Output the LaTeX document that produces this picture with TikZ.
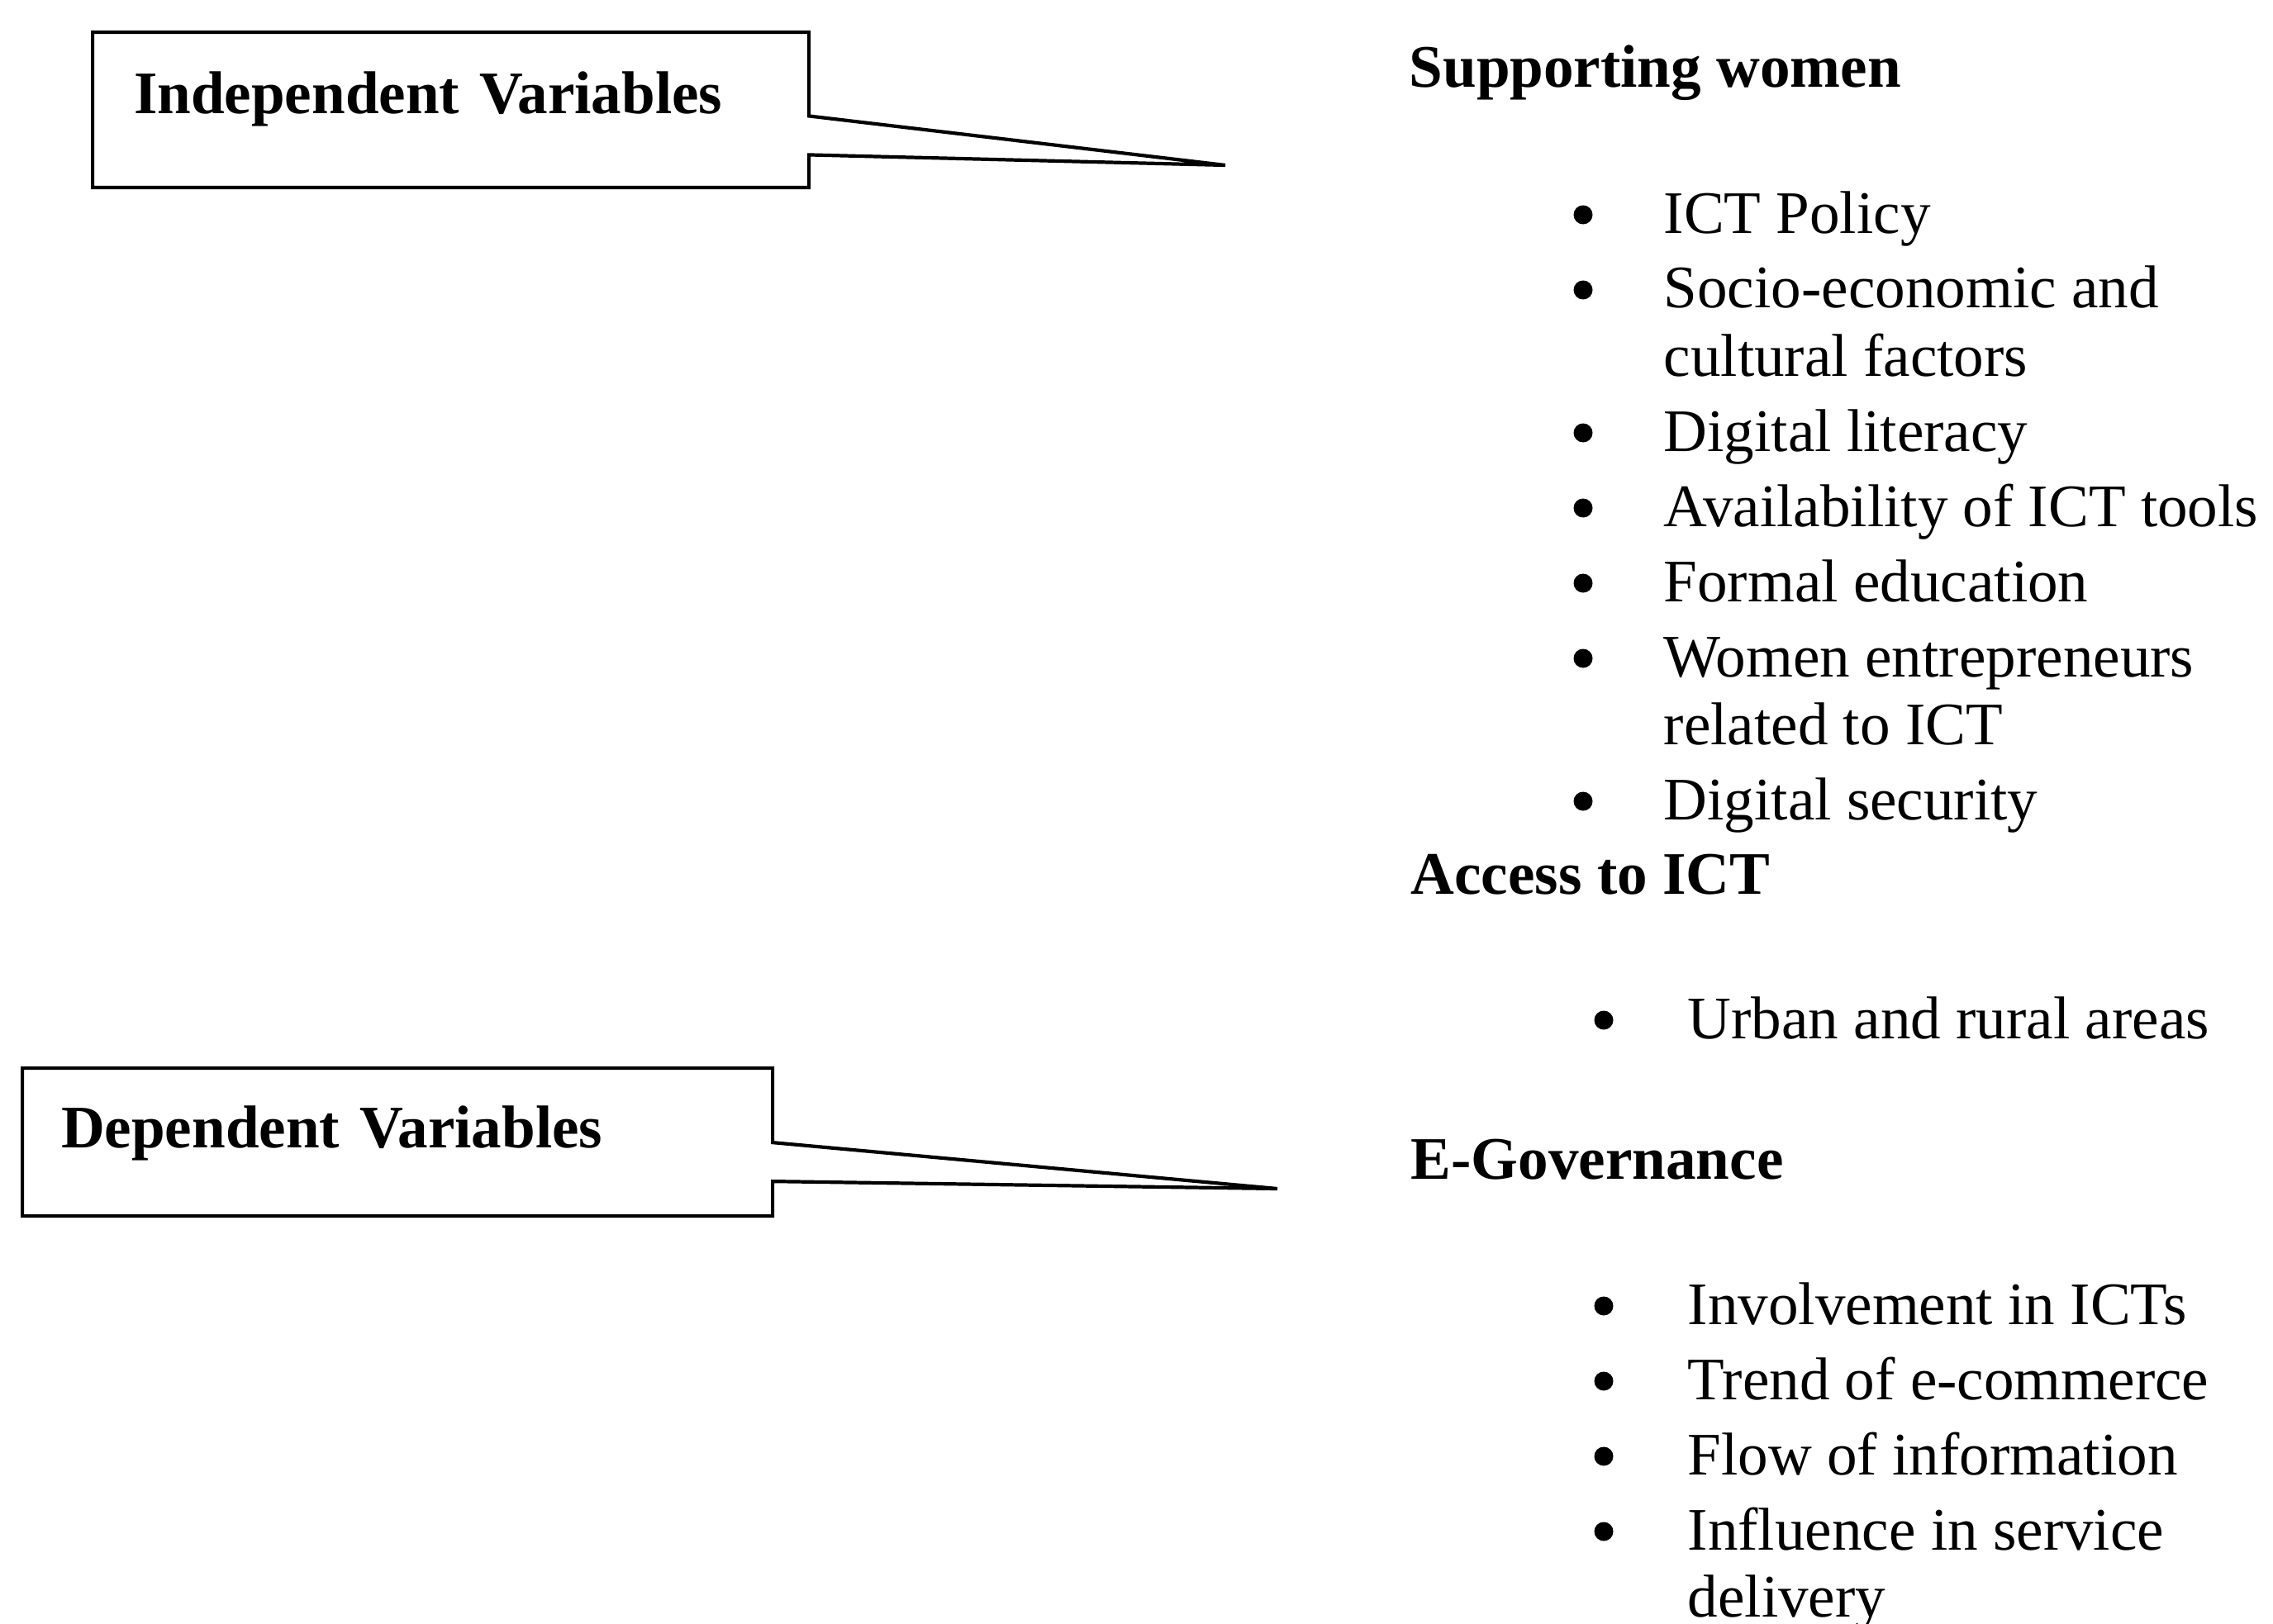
\documentclass[tikz,border=0pt]{standalone}
\usepackage{fontspec}
\setmainfont{Liberation Serif}
\usetikzlibrary{shapes.callouts}

\tikzset{
  varbox/.style={rectangle callout, draw=black, line width=1.2pt, inner ysep=0pt, align=left,
    font=\fontsize{20.8}{23.3}\selectfont\bfseries, callout pointer width=0.47cm},
  head/.style={anchor=base west, inner sep=0pt, font=\fontsize{20.8}{23.3}\selectfont\bfseries},
  dot/.style={circle, fill=black, inner sep=0pt, minimum size=0.23cm},
  entry/.style={anchor=base west, inner sep=0pt, font=\fontsize{20.8}{23.3}\selectfont},
}

\begin{document}
\begin{tikzpicture}
            \useasboundingbox (0,0) rectangle (27.51,-19.66);

            % Variable boxes
            \coordinate (indtip) at (14.83,-2.00);
            \node[varbox, anchor=north west, inner xsep=0.5cm, text width=7.67cm, text height=0.98cm, text depth=0.90cm, callout absolute pointer={(indtip)}] (indep) at (1.10,-0.37) {Independent Variables};

            \coordinate (deptip) at (15.46,-14.39);
            \node[varbox, anchor=north west, inner xsep=0.47cm, text width=8.14cm, text height=0.96cm, text depth=0.83cm, callout absolute pointer={(deptip)}] (dep) at (0.25,-12.91) {Dependent Variables};

            % Supporting women
            \node[head] (support) at (17.05,-1.06) {Supporting women};
            \node[dot] (d1) at (19.16,-2.60) {};
            \node[entry] (policy) at (20.13,-2.82) {ICT Policy};
            \node[dot] (d2) at (19.16,-3.51) {};
            \node[entry] (socio) at (20.13,-3.73) {Socio-economic and};
            \node[entry] (cultural) at (20.13,-4.55) {cultural factors};
            \node[dot] (d3) at (19.16,-5.24) {};
            \node[entry] (literacy) at (20.13,-5.46) {Digital literacy};
            \node[dot] (d4) at (19.16,-6.15) {};
            \node[entry] (tools) at (20.13,-6.37) {Availability of ICT tools};
            \node[dot] (d5) at (19.16,-7.06) {};
            \node[entry] (educ) at (20.13,-7.28) {Formal education};
            \node[dot] (d6) at (19.16,-7.97) {};
            \node[entry] (entre) at (20.13,-8.19) {Women entrepreneurs};
            \node[entry] (related) at (20.13,-9.01) {related to ICT};
            \node[dot] (d7) at (19.16,-9.70) {};
            \node[entry] (security) at (20.13,-9.92) {Digital security};

            % Access to ICT
            \node[head] (access) at (17.07,-10.82) {Access to ICT};
            \node[dot] (d8) at (19.41,-12.35) {};
            \node[entry] (areas) at (20.42,-12.57) {Urban and rural areas};

            % E-Governance
            \node[head] (egov) at (17.07,-14.27) {E-Governance};
            \node[dot] (d9) at (19.41,-15.81) {};
            \node[entry] (involve) at (20.42,-16.03) {Involvement in ICTs};
            \node[dot] (d10) at (19.41,-16.72) {};
            \node[entry] (trend) at (20.42,-16.94) {Trend of e-commerce};
            \node[dot] (d11) at (19.41,-17.63) {};
            \node[entry] (flow) at (20.42,-17.85) {Flow of information};
            \node[dot] (d12) at (19.41,-18.54) {};
            \node[entry] (service) at (20.42,-18.76) {Influence in service};
            \node[entry] (delivery) at (20.42,-19.57) {delivery};
        \end{tikzpicture}
\end{document}
